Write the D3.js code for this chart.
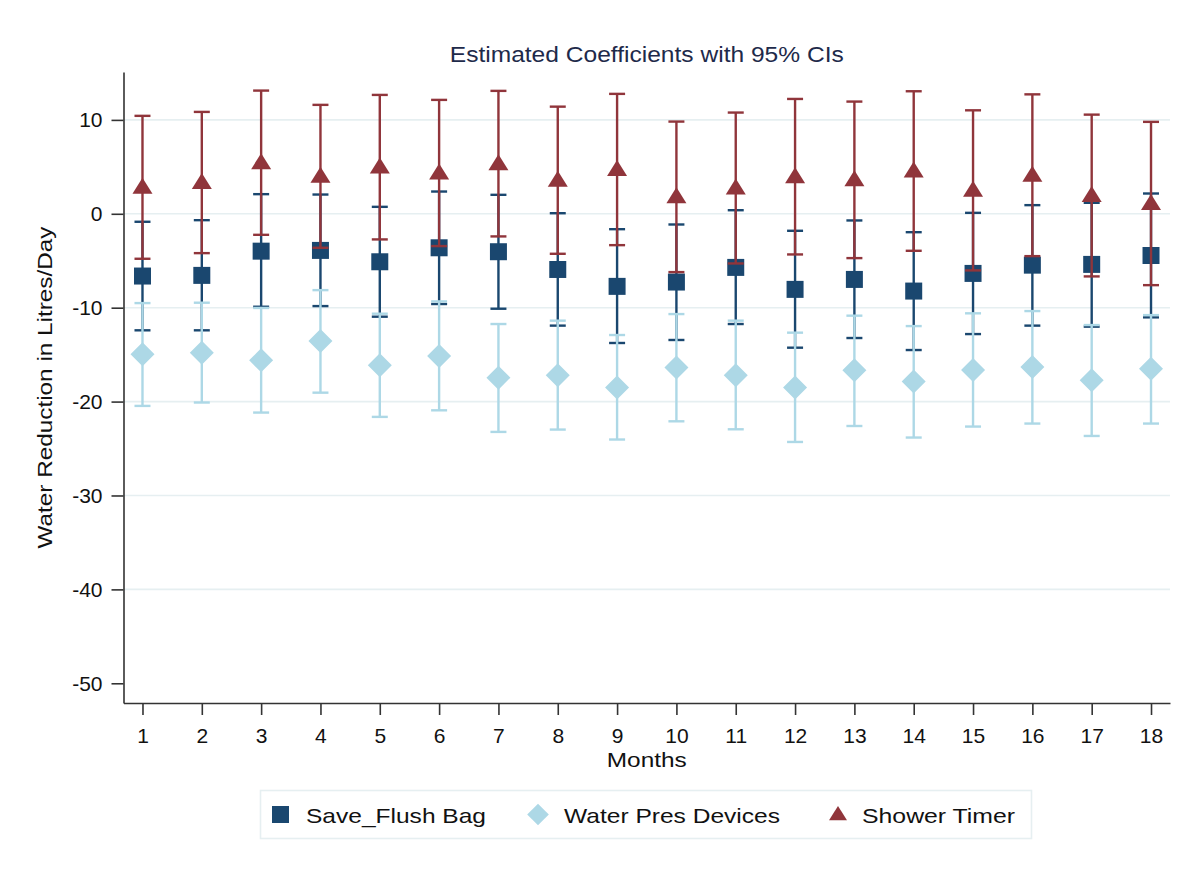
<!DOCTYPE html>
<html>
<head>
<meta charset="utf-8">
<script src="https://cdn.jsdelivr.net/npm/d3@7"></script>
<style>
  html, body { margin: 0; padding: 0; background: #fff; }
  svg { display: block; font-family: "Liberation Sans", Arial, sans-serif; }
</style>
</head>
<body>
<div id="chart"></div>
<script>
// ---- data ----
const months = [1, 2, 3, 4, 5, 6, 7, 8, 9, 10, 11, 12, 13, 14, 15, 16, 17, 18]
const yTicks = [-50, -40, -30, -20, -10, 0, 10]
const seriesNames = ['Save_Flush Bag', 'Water Pres Devices', 'Shower Timer']

const flushCoef = [-6.63, -6.56, -3.98, -3.90, -5.11, -3.62, -4.04, -5.93, -7.73, -7.27, -5.71, -8.05, -6.99, -8.23, -6.35, -5.47, -5.39, -4.44]
const flushLo = [-12.41, -12.41, -9.90, -9.83, -10.96, -9.61, -10.11, -11.91, -13.76, -13.44, -11.74, -14.26, -13.23, -14.51, -12.81, -11.91, -12.02, -11.03]
const flushHi = [-0.85, -0.68, 2.09, 2.05, 0.74, 2.37, 2.02, 0.06, -1.64, -1.14, 0.38, -1.81, -0.71, -1.96, 0.10, 0.92, 1.17, 2.16]

const presCoef = [-14.97, -14.79, -15.60, -13.55, -16.14, -15.14, -17.45, -17.20, -18.51, -16.38, -17.20, -18.51, -16.67, -17.87, -16.64, -16.32, -17.73, -16.49]
const presLo = [-20.46, -20.10, -21.17, -19.05, -21.63, -20.93, -23.23, -22.98, -24.04, -22.10, -22.95, -24.30, -22.60, -23.83, -22.66, -22.34, -23.66, -22.34]
const presHi = [-9.51, -9.47, -10.03, -8.13, -10.64, -9.33, -11.74, -11.38, -12.91, -10.68, -11.38, -12.66, -10.85, -11.96, -10.60, -10.36, -11.85, -10.79]

const timerCoef = [2.82, 3.33, 5.44, 3.99, 4.97, 4.35, 5.34, 3.58, 4.72, 1.81, 2.75, 3.95, 3.62, 4.56, 2.50, 4.11, 1.95, 1.10]
const timerLo = [-4.79, -4.19, -2.24, -3.62, -2.73, -3.44, -2.41, -4.26, -3.34, -6.21, -5.29, -4.33, -4.72, -3.94, -6.03, -4.51, -6.67, -7.60]
const timerHi = [10.43, 10.85, 13.12, 11.60, 12.66, 12.13, 13.09, 11.41, 12.77, 9.82, 10.78, 12.23, 11.95, 13.05, 11.02, 12.72, 10.56, 9.79]

const width = 1199
const height = 879
const FONT = '"Liberation Sans", Arial, sans-serif'

const colors = ['#1a476f', '#add8e6', '#90353b']
const shapes = ['square', 'diamond', 'triangle']

const series = [
  { coef: flushCoef, lo: flushLo, hi: flushHi },
  { coef: presCoef, lo: presLo, hi: presHi },
  { coef: timerCoef, lo: timerLo, hi: timerHi },
].map((s, i) => ({
  name: seriesNames[i],
  color: colors[i],
  shape: shapes[i],
  points: months.map((m, j) => ({ month: m, coef: s.coef[j], lo: s.lo[j], hi: s.hi[j] })),
}))

// marker paths, centred on the point
function markerPath(shape) {
  if (shape === 'square') return 'M-8.5,-8.5H8.5V8.5H-8.5Z'
  if (shape === 'diamond') return 'M0,-12L12,0L0,12L-12,0Z'
  return 'M0,-9.5L10,6.5L-10,6.5Z'
}

// the labels in the original are drawn a little wider than Arial
function stretchedText(sel, len) {
  return sel.attr('textLength', len).attr('lengthAdjust', 'spacingAndGlyphs')
}

// ---- scales ----
const x = d3.scaleLinear().domain([0.68, 18.32]).range([123.5, 1170])
const y = d3.scaleLinear().domain([-52.1, 15.1]).range([703, 72])

const svg = d3.select('#chart')
  .append('svg')
  .attr('width', width)
  .attr('height', height)
  .attr('viewBox', `0 0 ${width} ${height}`)

svg.append('rect').attr('width', width).attr('height', height).attr('fill', '#fff')

// gridlines
svg.append('g')
  .attr('class', 'gridlines')
  .selectAll('line')
  .data(yTicks.filter(d => d !== -50))
  .join('line')
  .attr('x1', x.range()[0])
  .attr('x2', x.range()[1])
  .attr('y1', d => y(d))
  .attr('y2', d => y(d))
  .attr('stroke', '#e6eff1')
  .attr('stroke-width', 1.6)

// Y axis
svg.append('g')
  .attr('class', 'y-axis')
  .attr('transform', `translate(${x.range()[0]},0)`)
  .call(d3.axisLeft(y).tickValues(yTicks).tickFormat(d => String(d)).tickSize(12).tickSizeOuter(0).tickPadding(9))
  .call(g => {
    g.select('.domain').attr('stroke', '#333').attr('stroke-width', 1.6)
    g.selectAll('.tick line').attr('stroke', '#333').attr('stroke-width', 1.6)
    g.selectAll('.tick text')
      .attr('fill', '#111')
      .attr('font-size', '21px')
      .attr('font-family', FONT)
  })

// X axis
svg.append('g')
  .attr('class', 'x-axis')
  .attr('transform', `translate(0,${y.range()[0]})`)
  .call(d3.axisBottom(x).tickValues(months).tickFormat(d => String(d)).tickSize(12).tickSizeOuter(0).tickPadding(13))
  .call(g => {
    g.select('.domain').attr('stroke', '#333').attr('stroke-width', 1.6)
    g.selectAll('.tick line').attr('stroke', '#333').attr('stroke-width', 1.6)
    g.selectAll('.tick text')
      .attr('fill', '#111')
      .attr('font-size', '21px')
      .attr('font-family', FONT)
  })

// titles
const midX = (x.range()[0] + x.range()[1]) / 2
stretchedText(svg.append('text')
  .attr('x', midX)
  .attr('y', 54)
  .attr('dy', '0.35em')
  .attr('text-anchor', 'middle')
  .attr('fill', '#1e2a4a')
  .attr('font-size', '22px')
  .attr('font-family', FONT)
  .text('Estimated Coefficients with 95% CIs'), 394)

stretchedText(svg.append('text')
  .attr('x', midX)
  .attr('y', 760)
  .attr('dy', '0.35em')
  .attr('text-anchor', 'middle')
  .attr('fill', '#111')
  .attr('font-size', '21px')
  .attr('font-family', FONT)
  .text('Months'), 80)

stretchedText(svg.append('text')
  .attr('transform', `translate(45,${(y.range()[0] + y.range()[1]) / 2}) rotate(-90)`)
  .attr('dy', '0.35em')
  .attr('text-anchor', 'middle')
  .attr('fill', '#111')
  .attr('font-size', '21px')
  .attr('font-family', FONT)
  .text('Water Reduction in Litres/Day'), 322)

// ---- CIs and markers, one series after another ----
const capHalf = 8
series.forEach(s => {
  const g = svg.append('g').attr('class', 'series')
  g.selectAll('.ci')
    .data(s.points)
    .join('line')
    .attr('class', 'ci')
    .attr('x1', d => x(d.month)).attr('x2', d => x(d.month))
    .attr('y1', d => y(d.lo)).attr('y2', d => y(d.hi))
    .attr('stroke', s.color).attr('stroke-width', 2.4)
  g.selectAll('.cap-hi')
    .data(s.points)
    .join('line')
    .attr('class', 'cap-hi')
    .attr('x1', d => x(d.month) - capHalf).attr('x2', d => x(d.month) + capHalf)
    .attr('y1', d => y(d.hi)).attr('y2', d => y(d.hi))
    .attr('stroke', s.color).attr('stroke-width', 2.4)
  g.selectAll('.cap-lo')
    .data(s.points)
    .join('line')
    .attr('class', 'cap-lo')
    .attr('x1', d => x(d.month) - capHalf).attr('x2', d => x(d.month) + capHalf)
    .attr('y1', d => y(d.lo)).attr('y2', d => y(d.lo))
    .attr('stroke', s.color).attr('stroke-width', 2.4)
  g.selectAll('.marker')
    .data(s.points)
    .join('path')
    .attr('class', 'marker')
    .attr('transform', d => `translate(${x(d.month)},${y(d.coef)})`)
    .attr('d', markerPath(s.shape))
    .attr('fill', s.color)
})

// ---- legend ----
const legend = svg.append('g').attr('class', 'legend')
legend.append('rect')
  .attr('x', 260.5).attr('y', 790.5)
  .attr('width', 771).attr('height', 48)
  .attr('fill', '#fff')
  .attr('stroke', '#e6eff1')
  .attr('stroke-width', 1.6)

const legendX = [280.5, 538, 838]
const legendTextLen = [180, 216, 153]
const legendScale = { square: 1, diamond: 0.9, triangle: 0.9 }
series.forEach((s, i) => {
  const item = legend.append('g').attr('transform', `translate(${legendX[i]},815.5)`)
  item.append('path')
    .attr('d', markerPath(s.shape))
    .attr('transform', `translate(0,-1) scale(${legendScale[s.shape]})`)
    .attr('fill', s.color)
  stretchedText(item.append('text')
    .attr('x', [25.5, 26, 24][i])
    .attr('dy', '0.35em')
    .attr('fill', '#111')
    .attr('font-size', '21px')
    .attr('font-family', FONT)
    .text(s.name), legendTextLen[i])
})
</script>
</body>
</html>
